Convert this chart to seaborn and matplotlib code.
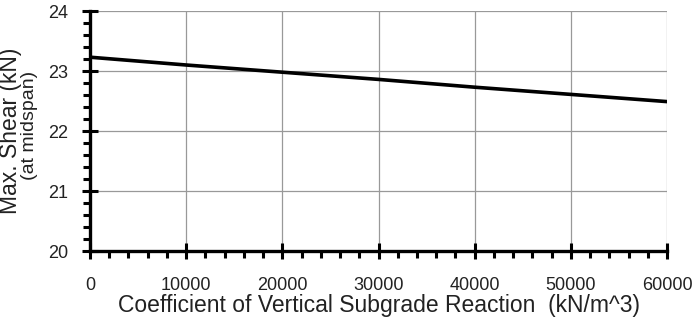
import numpy as np
import pandas as pd
import matplotlib
matplotlib.use("Agg")
import matplotlib.pyplot as plt
from matplotlib.ticker import MultipleLocator
import seaborn as sns

# Data
k_values = [0, 10000, 20000, 30000, 40000, 50000, 60000]
max_shear = [23.23, 23.10, 22.98, 22.86, 22.73, 22.61, 22.49]

df = pd.DataFrame({"k": k_values, "shear": max_shear})

sns.set_theme(style="white")
plt.rcParams['font.family'] = ['Liberation Sans', 'DejaVu Sans']
txt = "#222222"

fig = plt.figure(figsize=(6.98, 3.2), dpi=100)
ax = fig.add_axes([90 / 698, 1 - 251 / 320, (667 - 90) / 698, (251 - 11) / 320])

sns.lineplot(data=df, x="k", y="shear", ax=ax, color="black", linewidth=2.6)

ax.set_xlim(0, 60000)
ax.set_ylim(20, 24)
ax.xaxis.set_major_locator(MultipleLocator(10000))
ax.xaxis.set_minor_locator(MultipleLocator(2000))
ax.yaxis.set_major_locator(MultipleLocator(1))
ax.yaxis.set_minor_locator(MultipleLocator(0.2))

ax.grid(True, which="major", color="#999999", linewidth=0.9)
for s in ["top", "right"]:
    ax.spines[s].set_visible(False)
for s in ["left", "bottom"]:
    ax.spines[s].set_color("black")
    ax.spines[s].set_linewidth(2.4)

ax.tick_params(which="major", direction="inout", length=12, width=2.2, colors="black",
               labelcolor=txt, labelsize=13, left=True, bottom=True)
ax.tick_params(which="minor", direction="out", length=5, width=2.2, colors="black",
               left=True, bottom=True)
ax.tick_params(axis="y", which="major", pad=10)
ax.tick_params(axis="x", which="major", pad=13)

ax.set_xlabel("Coefficient of Vertical Subgrade Reaction  (kN/m^3)", fontsize=16.5,
              labelpad=0, color=txt)
ax.set_ylabel("")

# two-line y label: main title plus smaller note beside it
fig.text(11 / 698, 1 - 131 / 320, "Max. Shear (kN)", rotation=90, fontsize=16.5,
         ha="center", va="center", color=txt)
fig.text(30 / 698, 1 - 125 / 320, "(at midspan)", rotation=90, fontsize=14,
         ha="center", va="center", color=txt)

fig.savefig("out.png", dpi=100)
